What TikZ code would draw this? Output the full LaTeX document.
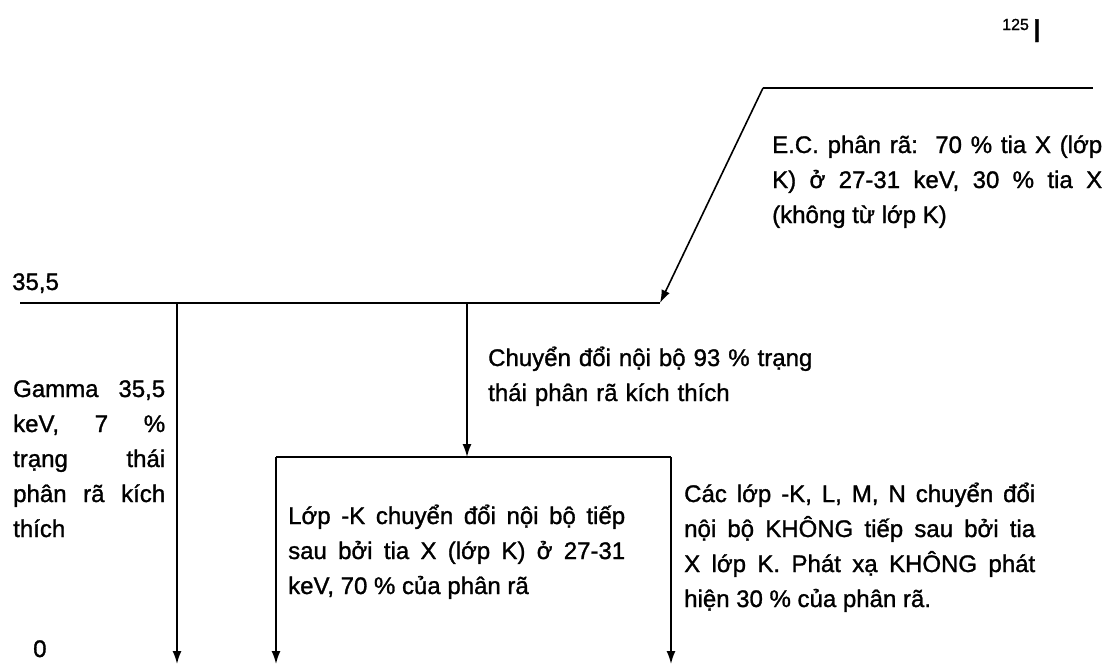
\documentclass[tikz,border=0pt]{standalone}
\usepackage{fontspec}
\setmainfont{Liberation Sans}[FakeBold=1.2]
\usetikzlibrary{arrows.meta}
\hbadness=10000
\begin{document}
\begin{tikzpicture}[x=1pt,y=-1pt,
  lvl/.style={line width=2.4pt},
  arr/.style={line width=1.6pt,-{Latex[length=13pt,width=9pt]}},
  txt/.style={anchor=base west,inner sep=0pt,font=\fontsize{24}{35}\selectfont,align=justify},
  lbl/.style={anchor=base west,inner sep=0pt,font=\fontsize{24}{24}\selectfont}
]
\useasboundingbox (0,0) rectangle (1107,665);
% level points
\coordinate (t1) at (763,88);
\coordinate (t2) at (1093,88);
\coordinate (e1) at (20,303);
\coordinate (e2) at (660,303);
\coordinate (g0) at (177,303);
\coordinate (g1) at (177,664);
\coordinate (c0) at (467,303);
\coordinate (c1) at (467,457);
\coordinate (k0) at (276,457);
\coordinate (k1) at (276,664);
\coordinate (n0) at (671,457);
\coordinate (n1) at (671,664);
% levels
\draw[lvl] (t1) -- (t2);
\draw[lvl] (e1) -- (e2);
\draw[lvl] (k0) -- (n0);
% transitions
\draw[arr] (t1) -- (e2);
\draw[arr] (g0) -- (g1);
\draw[arr] (c0) -- (c1);
\draw[arr] (k0) -- (k1);
\draw[arr] (n0) -- (n1);
% labels
\node[anchor=base west,inner sep=0pt,font=\fontsize{16}{16}\selectfont] (iso) at (1002,30) {125};
\node[anchor=base west,inner sep=0pt,font=\fontsize{33}{33}\selectfont] (isoI) at (1032,42) {I};
\node[lbl] (l355) at (12,290) {35,5};
\node[lbl] (l0) at (33,657) {0};
\node[txt,text width=330pt] (ec) at (772,153) {E.C. phân rã:\ \ 70 \% tia X (lớp\linebreak K) ở 27-31 keV, 30 \% tia X\linebreak (không từ lớp K)};
\node[txt,text width=152pt] (gam) at (13,397) {Gamma 35,5\linebreak keV, 7 \%\linebreak trạng thái\linebreak phân rã kích\linebreak thích};
\node[txt,text width=340pt,align=left] (chu) at (488,366) {Chuyển đổi nội bộ 93 \% trạng\\ thái phân rã kích thích};
\node[txt,text width=337pt] (lop) at (288,524) {Lớp -K chuyển đổi nội bộ tiếp\linebreak sau bởi tia X (lớp K) ở 27-31\linebreak keV, 70 \% của phân rã};
\node[txt,text width=351pt] (cac) at (684,502) {Các lớp -K, L, M, N chuyển đổi\linebreak nội bộ KHÔNG tiếp sau bởi tia\linebreak X lớp K. Phát xạ KHÔNG phát\linebreak hiện 30 \% của phân rã.};
\end{tikzpicture}
\end{document}
